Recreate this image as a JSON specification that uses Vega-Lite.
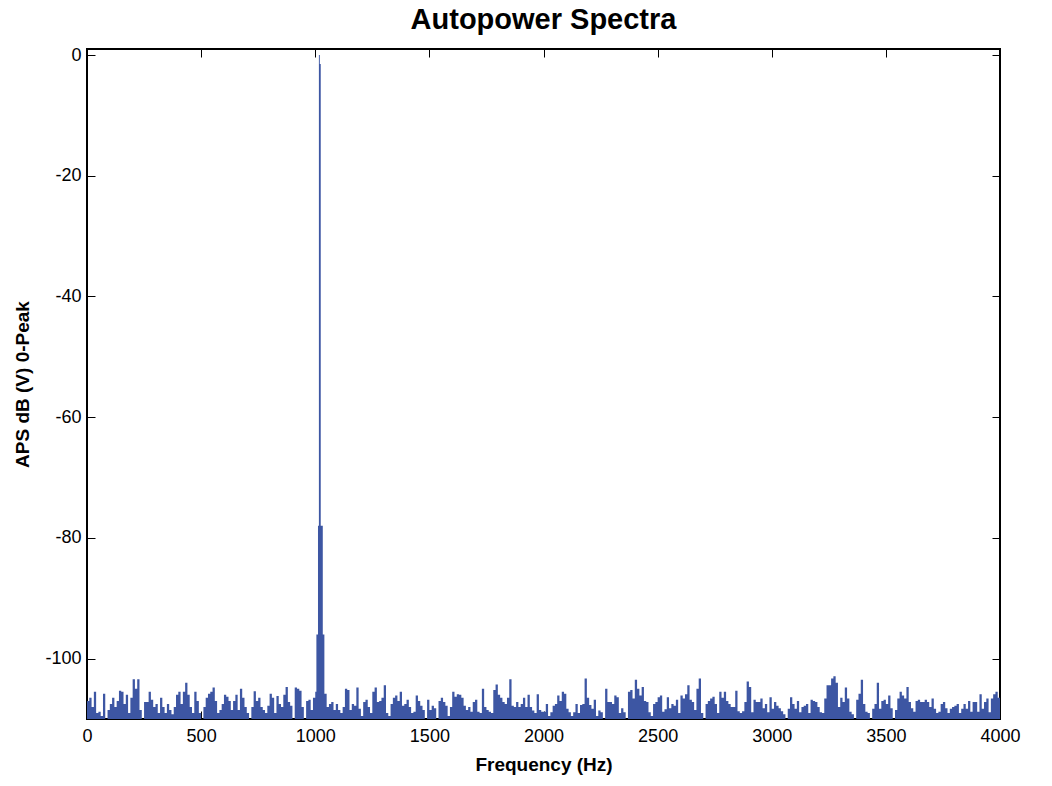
{
  "$schema": "https://vega.github.io/schema/vega-lite/v6.json",
  "width": 913,
  "height": 670,
  "autosize": "none",
  "padding": {"left": 87, "top": 49, "right": 52, "bottom": 67},
  "background": "white",
  "config": {
    "font": "Liberation Sans",
    "view": {"stroke": "black", "strokeWidth": 2},
    "axis": {"grid": false, "domain": false, "tickColor": "black", "labelColor": "black", "titleColor": "black", "labelFontSize": 18, "titleFontSize": 19, "titleFontWeight": "bold", "labelFont": "Liberation Sans", "titleFont": "Liberation Sans"}
  },
  "title": {"text": "Autopower Spectra", "fontSize": 29, "fontWeight": "bold", "font": "Liberation Sans", "color": "black", "anchor": "middle", "offset": 11},
  "data": {"values": [
{"f":0,"db":-107},{"f":10,"db":-106.5},{"f":20,"db":-108},{"f":30,"db":-105.5},{"f":40,"db":-109},{"f":50,"db":-108.8},{"f":60,"db":-109.5},{"f":70,"db":-105.8},{"f":80,"db":-111},{"f":90,"db":-108.5},
{"f":100,"db":-107.5},{"f":110,"db":-106.5},{"f":120,"db":-108},{"f":130,"db":-107},{"f":140,"db":-105.3},{"f":150,"db":-105.5},{"f":160,"db":-107.5},{"f":170,"db":-106},{"f":180,"db":-109},{"f":190,"db":-106.5},
{"f":200,"db":-103.4},{"f":210,"db":-105},{"f":220,"db":-103.4},{"f":230,"db":-108.5},{"f":240,"db":-111},{"f":250,"db":-107.2},{"f":260,"db":-107.2},{"f":270,"db":-105.5},{"f":280,"db":-106.8},{"f":290,"db":-108},
{"f":300,"db":-107.5},{"f":310,"db":-109},{"f":320,"db":-106.5},{"f":330,"db":-108},{"f":340,"db":-109},{"f":350,"db":-107.5},{"f":360,"db":-108.5},{"f":370,"db":-109.2},{"f":380,"db":-108},{"f":390,"db":-106},
{"f":400,"db":-105.5},{"f":410,"db":-107.5},{"f":420,"db":-105.5},{"f":430,"db":-104},{"f":440,"db":-106},{"f":450,"db":-108},{"f":460,"db":-109},{"f":470,"db":-105.5},{"f":480,"db":-107},{"f":490,"db":-109},
{"f":500,"db":-111},{"f":510,"db":-108},{"f":520,"db":-106.5},{"f":530,"db":-105.8},{"f":540,"db":-105.5},{"f":550,"db":-104.8},{"f":560,"db":-107},{"f":570,"db":-109},{"f":580,"db":-108.5},{"f":590,"db":-107.5},
{"f":600,"db":-106},{"f":610,"db":-106.3},{"f":620,"db":-107},{"f":630,"db":-108.5},{"f":640,"db":-107},{"f":650,"db":-106},{"f":660,"db":-108.5},{"f":670,"db":-105},{"f":680,"db":-106.5},{"f":690,"db":-108},
{"f":700,"db":-109},{"f":710,"db":-110.5},{"f":720,"db":-108},{"f":730,"db":-105.4},{"f":740,"db":-107},{"f":750,"db":-106.5},{"f":760,"db":-108},{"f":770,"db":-108.5},{"f":780,"db":-109},{"f":790,"db":-107.8},
{"f":800,"db":-105.8},{"f":810,"db":-106.5},{"f":820,"db":-109},{"f":830,"db":-106.2},{"f":840,"db":-107.5},{"f":850,"db":-108},{"f":860,"db":-106},{"f":870,"db":-104.7},{"f":880,"db":-107.2},{"f":890,"db":-107.8},
{"f":900,"db":-110.5},{"f":910,"db":-104.8},{"f":920,"db":-105},{"f":930,"db":-105.3},{"f":940,"db":-108},{"f":950,"db":-110.5},{"f":960,"db":-107},{"f":970,"db":-106.8},{"f":980,"db":-108.5},{"f":990,"db":-106.5},
{"f":1000,"db":-105.5},{"f":1005,"db":-96},{"f":1012,"db":-78},{"f":1016,"db":0},{"f":1020,"db":-1.5},{"f":1024,"db":-78},{"f":1033,"db":-96},
{"f":1040,"db":-105.8},{"f":1050,"db":-108},{"f":1060,"db":-107.5},{"f":1070,"db":-107.2},{"f":1080,"db":-108.5},{"f":1090,"db":-107.5},
{"f":1100,"db":-108.5},{"f":1110,"db":-109},{"f":1120,"db":-108},{"f":1130,"db":-105},{"f":1140,"db":-105.2},{"f":1150,"db":-108.5},{"f":1160,"db":-107.5},{"f":1170,"db":-107.8},{"f":1180,"db":-104.8},{"f":1190,"db":-108.3},
{"f":1200,"db":-109.5},{"f":1210,"db":-107.2},{"f":1220,"db":-106.8},{"f":1230,"db":-108},{"f":1240,"db":-109},{"f":1250,"db":-105.5},{"f":1260,"db":-104.8},{"f":1270,"db":-107.2},{"f":1280,"db":-107},{"f":1290,"db":-106.5},
{"f":1300,"db":-104.4},{"f":1310,"db":-109},{"f":1320,"db":-109.5},{"f":1330,"db":-107.5},{"f":1340,"db":-106.5},{"f":1350,"db":-106.1},{"f":1360,"db":-107},{"f":1370,"db":-105.5},{"f":1380,"db":-107.8},{"f":1390,"db":-107.5},
{"f":1400,"db":-106.8},{"f":1410,"db":-108},{"f":1420,"db":-109},{"f":1430,"db":-108.8},{"f":1440,"db":-106.1},{"f":1450,"db":-107},{"f":1460,"db":-107.8},{"f":1470,"db":-108.5},{"f":1480,"db":-111},{"f":1490,"db":-106.8},
{"f":1500,"db":-108.5},{"f":1510,"db":-107.8},{"f":1520,"db":-108.2},{"f":1530,"db":-110.5},{"f":1540,"db":-107},{"f":1550,"db":-106.5},{"f":1560,"db":-107.2},{"f":1570,"db":-107.8},{"f":1580,"db":-109.5},{"f":1590,"db":-108},
{"f":1600,"db":-105.5},{"f":1610,"db":-106.3},{"f":1620,"db":-105.9},{"f":1630,"db":-106},{"f":1640,"db":-106.5},{"f":1650,"db":-107.8},{"f":1660,"db":-108.5},{"f":1670,"db":-108},{"f":1680,"db":-108.8},{"f":1690,"db":-107.2},
{"f":1700,"db":-106.8},{"f":1710,"db":-108.8},{"f":1720,"db":-109},{"f":1730,"db":-105},{"f":1740,"db":-108},{"f":1750,"db":-108.5},{"f":1760,"db":-108.8},{"f":1770,"db":-109},{"f":1780,"db":-105.2},{"f":1790,"db":-104.3},
{"f":1800,"db":-106},{"f":1810,"db":-106.5},{"f":1820,"db":-107.2},{"f":1830,"db":-107.5},{"f":1840,"db":-106.5},{"f":1850,"db":-103.4},{"f":1860,"db":-107.8},{"f":1870,"db":-108},{"f":1880,"db":-107.2},{"f":1890,"db":-108},
{"f":1900,"db":-107.5},{"f":1910,"db":-106.5},{"f":1920,"db":-108},{"f":1930,"db":-106},{"f":1940,"db":-108},{"f":1950,"db":-108.6},{"f":1960,"db":-109},{"f":1970,"db":-105.9},{"f":1980,"db":-108.5},{"f":1990,"db":-108.8},
{"f":2000,"db":-108.8},{"f":2010,"db":-107.5},{"f":2020,"db":-109.5},{"f":2030,"db":-108.9},{"f":2040,"db":-107.8},{"f":2050,"db":-107.5},{"f":2060,"db":-106.1},{"f":2070,"db":-107},{"f":2080,"db":-105.5},{"f":2090,"db":-105.8},
{"f":2100,"db":-108.3},{"f":2110,"db":-108.9},{"f":2120,"db":-109.5},{"f":2130,"db":-108.9},{"f":2140,"db":-107.5},{"f":2150,"db":-109},{"f":2160,"db":-107.7},{"f":2170,"db":-107.5},{"f":2180,"db":-103.3},{"f":2190,"db":-106.5},
{"f":2200,"db":-107.7},{"f":2210,"db":-108.3},{"f":2220,"db":-106.8},{"f":2230,"db":-109.5},{"f":2240,"db":-108.6},{"f":2250,"db":-108.9},{"f":2260,"db":-110.5},{"f":2270,"db":-105},{"f":2280,"db":-107.2},{"f":2290,"db":-107.2},
{"f":2300,"db":-107.5},{"f":2310,"db":-106.1},{"f":2320,"db":-106.4},{"f":2330,"db":-109},{"f":2340,"db":-108.2},{"f":2350,"db":-108.9},{"f":2360,"db":-111},{"f":2370,"db":-105.5},{"f":2380,"db":-105.2},{"f":2390,"db":-106.6},
{"f":2400,"db":-103.5},{"f":2410,"db":-105},{"f":2420,"db":-106.1},{"f":2430,"db":-104.7},{"f":2440,"db":-107},{"f":2450,"db":-107.2},{"f":2460,"db":-108.9},{"f":2470,"db":-109.5},{"f":2480,"db":-107.5},{"f":2490,"db":-107.2},
{"f":2500,"db":-106.4},{"f":2510,"db":-106.1},{"f":2520,"db":-108.8},{"f":2530,"db":-108.4},{"f":2540,"db":-106.4},{"f":2550,"db":-108.2},{"f":2560,"db":-107.5},{"f":2570,"db":-107.8},{"f":2580,"db":-106.8},{"f":2590,"db":-109},
{"f":2600,"db":-106.1},{"f":2610,"db":-106.6},{"f":2620,"db":-105.9},{"f":2630,"db":-104.4},{"f":2640,"db":-106.8},{"f":2650,"db":-107.2},{"f":2660,"db":-108.5},{"f":2670,"db":-105},{"f":2680,"db":-103.3},{"f":2690,"db":-109},
{"f":2700,"db":-111},{"f":2710,"db":-107.5},{"f":2720,"db":-107},{"f":2730,"db":-106.6},{"f":2740,"db":-106.3},{"f":2750,"db":-107.5},{"f":2760,"db":-109},{"f":2770,"db":-105.5},{"f":2780,"db":-106.5},{"f":2790,"db":-105.5},
{"f":2800,"db":-107},{"f":2810,"db":-107.5},{"f":2820,"db":-108},{"f":2830,"db":-108},{"f":2840,"db":-105.3},{"f":2850,"db":-108.7},{"f":2860,"db":-109},{"f":2870,"db":-108.7},{"f":2880,"db":-107.2},{"f":2890,"db":-103.8},
{"f":2900,"db":-104.7},{"f":2910,"db":-108.9},{"f":2920,"db":-106.8},{"f":2930,"db":-107.2},{"f":2940,"db":-107.2},{"f":2950,"db":-106.6},{"f":2960,"db":-108.2},{"f":2970,"db":-107.5},{"f":2980,"db":-108.9},{"f":2990,"db":-106.4},
{"f":3000,"db":-108.3},{"f":3010,"db":-107.2},{"f":3020,"db":-107.8},{"f":3030,"db":-108.2},{"f":3040,"db":-108.7},{"f":3050,"db":-109.2},{"f":3060,"db":-110.5},{"f":3070,"db":-108.3},{"f":3080,"db":-106.4},{"f":3090,"db":-107.5},
{"f":3100,"db":-108.3},{"f":3110,"db":-107},{"f":3120,"db":-108.9},{"f":3130,"db":-108},{"f":3140,"db":-107.8},{"f":3150,"db":-107.5},{"f":3160,"db":-109},{"f":3170,"db":-106.8},{"f":3180,"db":-107},{"f":3190,"db":-107.2},
{"f":3200,"db":-108},{"f":3210,"db":-108.9},{"f":3220,"db":-109},{"f":3230,"db":-106.6},{"f":3240,"db":-104.4},{"f":3250,"db":-104.4},{"f":3260,"db":-103.3},{"f":3270,"db":-102.9},{"f":3280,"db":-104},{"f":3290,"db":-108},
{"f":3300,"db":-106.5},{"f":3310,"db":-107.2},{"f":3320,"db":-104.8},{"f":3330,"db":-106.6},{"f":3340,"db":-108.8},{"f":3350,"db":-109.2},{"f":3360,"db":-110.5},{"f":3370,"db":-106.8},{"f":3380,"db":-105.8},{"f":3390,"db":-103.5},
{"f":3400,"db":-107.5},{"f":3410,"db":-108.8},{"f":3420,"db":-109},{"f":3430,"db":-111},{"f":3440,"db":-108.3},{"f":3450,"db":-107.5},{"f":3460,"db":-104},{"f":3470,"db":-108.3},{"f":3480,"db":-107},{"f":3490,"db":-106.8},
{"f":3500,"db":-107.5},{"f":3510,"db":-106.1},{"f":3520,"db":-108.2},{"f":3530,"db":-110.5},{"f":3540,"db":-108.5},{"f":3550,"db":-106.6},{"f":3560,"db":-105.5},{"f":3570,"db":-106.1},{"f":3580,"db":-106.6},{"f":3590,"db":-104.7},
{"f":3600,"db":-107.2},{"f":3610,"db":-108.2},{"f":3620,"db":-108.8},{"f":3630,"db":-107},{"f":3640,"db":-106.8},{"f":3650,"db":-107.2},{"f":3660,"db":-107.2},{"f":3670,"db":-106.8},{"f":3680,"db":-107.2},{"f":3690,"db":-108},
{"f":3700,"db":-106.6},{"f":3710,"db":-108.3},{"f":3720,"db":-109},{"f":3730,"db":-108.8},{"f":3740,"db":-107.5},{"f":3750,"db":-107.2},{"f":3760,"db":-108.2},{"f":3770,"db":-109},{"f":3780,"db":-108.3},{"f":3790,"db":-108},
{"f":3800,"db":-107.8},{"f":3810,"db":-107.5},{"f":3820,"db":-109},{"f":3830,"db":-108.3},{"f":3840,"db":-107.5},{"f":3850,"db":-108.3},{"f":3860,"db":-107},{"f":3870,"db":-108.8},{"f":3880,"db":-107.2},{"f":3890,"db":-107.2},
{"f":3900,"db":-108.8},{"f":3910,"db":-105.9},{"f":3920,"db":-108.3},{"f":3930,"db":-107.2},{"f":3940,"db":-106.6},{"f":3950,"db":-108.9},{"f":3960,"db":-106.6},{"f":3970,"db":-105.9},{"f":3980,"db":-105.5},{"f":3990,"db":-106.5},
{"f":4000,"db":-106.5}
  ]},
  "resolve": {"axis": {"x": "independent", "y": "independent"}},
  "layer": [
    {
      "mark": {"type": "area", "interpolate": "step-after", "color": "#3d56a3", "clip": true},
      "encoding": {
        "x": {"field": "f", "type": "quantitative", "scale": {"domain": [0, 4000], "nice": false, "zero": false}, "axis": {"orient": "bottom", "title": "Frequency (Hz)", "values": [0, 500, 1000, 1500, 2000, 2500, 3000, 3500, 4000], "tickSize": -8, "labelPadding": 16, "titlePadding": 10, "labelExpr": "'' + datum.value", "labelFlush": false}},
        "y": {"field": "db", "type": "quantitative", "scale": {"domain": [-110, 1], "nice": false, "zero": false}, "axis": {"orient": "left", "title": "APS dB (V) 0-Peak", "values": [0, -20, -40, -60, -80, -100], "tickSize": -8, "labelPadding": 14, "titlePadding": 12, "labelExpr": "'' + datum.value", "labelFlush": false}},
        "y2": {"datum": -110}
      }
    },
    {
      "mark": {"type": "point", "opacity": 0},
      "encoding": {
        "x": {"field": "f", "type": "quantitative", "axis": {"orient": "top", "title": null, "labels": false, "values": [0, 500, 1000, 1500, 2000, 2500, 3000, 3500, 4000], "tickSize": -8}},
        "y": {"field": "db", "type": "quantitative", "axis": {"orient": "right", "title": null, "labels": false, "values": [0, -20, -40, -60, -80, -100], "tickSize": -8}}
      }
    }
  ]
}
